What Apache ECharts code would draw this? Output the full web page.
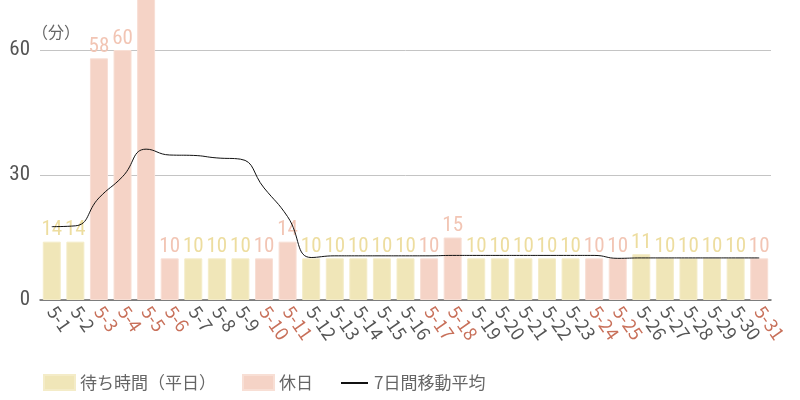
<!DOCTYPE html>
<html lang="ja">
<head>
    <meta charset="UTF-8">
    <title>待ち時間</title>
    <script src="https://cdn.jsdelivr.net/npm/echarts@6/dist/echarts.min.js"></script>
    <style>
        html, body { margin: 0; padding: 0; background: #fff; }
    </style>
</head>
<body>
    <div id="main" style="width: 800px;height: 400px"></div>
    <script type="text/javascript">
        // 日付
        var dates = ['5-1','5-2','5-3','5-4','5-5','5-6','5-7','5-8','5-9','5-10',
            '5-11','5-12','5-13','5-14','5-15','5-16','5-17','5-18','5-19','5-20',
            '5-21','5-22','5-23','5-24','5-25','5-26','5-27','5-28','5-29','5-30','5-31'];
        // 待ち時間（分） 5-5は枠外まで伸びているので推定
        var waitTimes = [14,14,58,60,77,10,10,10,10,10,
            14,10,10,10,10,10,10,15,10,10,
            10,10,10,10,10,11,10,10,10,10,10];
        // 休日
        var holidays = ['5-3','5-4','5-5','5-6','5-10','5-11','5-17','5-18','5-24','5-25','5-31'];
        // 7日間移動平均
        var movingAvg = [17.6,17.8,24.5,29.6,36.2,34.8,34.7,34.1,33.8,26.9,
            20.0,10.2,10.6,10.6,10.6,10.6,10.6,10.7,10.7,10.7,
            10.7,10.7,10.7,10.7,10.0,10.1,10.1,10.1,10.1,10.1,10.1];
        var yTicks = [0, 30, 60];

        // 数字は細め（condensed）で
        var numFont = '"Roboto Condensed","Liberation Sans Narrow","Arial Narrow",sans-serif';
        var jpFont = '"Noto Sans CJK JP",sans-serif';

        var weekdayColor = '#f0e6b8';
        var holidayColor = '#f5d3c6';

        // 平日・休日でデータを分ける
        var weekdayData = [], holidayData = [];
        dates.forEach(function (d, i) {
            var v = waitTimes[i];
            var isHoliday = holidays.indexOf(d) >= 0;
            // 5-5 のラベルは枠外なので表示しない
            var item = (v > yTicks[yTicks.length - 1] + 5) ? {value: v, label: {show: false}} : v;
            weekdayData.push(isHoliday ? '-' : item);
            holidayData.push(isHoliday ? item : '-');
        });

        var barLabel = function (color) {
            return {
                show: true,
                position: 'top',
                distance: 1,
                color: color,
                fontSize: 21,
                fontFamily: numFont
            };
        };

        var myChart = echarts.init(document.getElementById('main'));
        var option = {
            backgroundColor: '#fff',
            animation: false,
            grid: {left: 40, right: 29, top: 50, bottom: 100},
            legend: {
                left: 38,
                top: 369,
                itemWidth: 31,
                itemHeight: 15,
                itemGap: 26,
                textStyle: {fontSize: 17, color: '#666', fontFamily: jpFont},
                data: [
                    {name: '待ち時間（平日）', icon: 'rect'},
                    {name: '休日', icon: 'rect'},
                    // 線だけのアイコン
                    {name: '7日間移動平均', icon: 'path://M0,0L0.01,0Z M2,7L29,7L29,9L2,9Z M0,15L0.01,15Z'}
                ]
            },
            xAxis: {
                type: 'category',
                data: dates,
                axisLine: {lineStyle: {color: '#666', width: 1.5}},
                axisTick: {show: false},
                axisLabel: {
                    interval: 0,
                    rotate: -55,
                    margin: 8,
                    formatter: function (v) {
                        return holidays.indexOf(v) >= 0 ? '{h|' + v + '}' : '{w|' + v + '}';
                    },
                    rich: {
                        w: {color: '#555', fontSize: 18, fontFamily: jpFont},
                        h: {color: '#c8705a', fontSize: 18, fontFamily: jpFont}
                    }
                }
            },
            yAxis: {
                type: 'value',
                min: 0,
                max: 60,
                interval: 30,
                name: '（分）',
                nameGap: 10,
                nameTextStyle: {color: '#666', fontSize: 16, fontFamily: jpFont, align: 'left', padding: [0, 0, 0, -8]},
                axisLine: {show: false},
                axisTick: {show: false},
                axisLabel: {color: '#555', fontSize: 21, fontFamily: numFont, margin: 10},
                splitLine: {lineStyle: {color: '#c4c4c4', width: 1}}
            },
            series: [
                {
                    name: '待ち時間（平日）',
                    type: 'bar',
                    data: weekdayData,
                    barWidth: 18,
                    barGap: '-100%',
                    clip: false,
                    itemStyle: {color: weekdayColor, borderColor: '#f4ecc8', borderWidth: 1},
                    label: barLabel('#eddd9f')
                },
                {
                    name: '休日',
                    type: 'bar',
                    data: holidayData,
                    barWidth: 18,
                    barGap: '-100%',
                    clip: false,
                    itemStyle: {color: holidayColor, borderColor: '#f8dfd5', borderWidth: 1},
                    label: barLabel('#f2c5b4')
                },
                {
                    name: '7日間移動平均',
                    type: 'line',
                    data: movingAvg,
                    smooth: true,
                    symbol: 'none',
                    z: 5,
                    lineStyle: {color: '#111', width: 1},
                    itemStyle: {color: '#111'}
                }
            ]
        };
        myChart.setOption(option);
    </script>
</body>
</html>
